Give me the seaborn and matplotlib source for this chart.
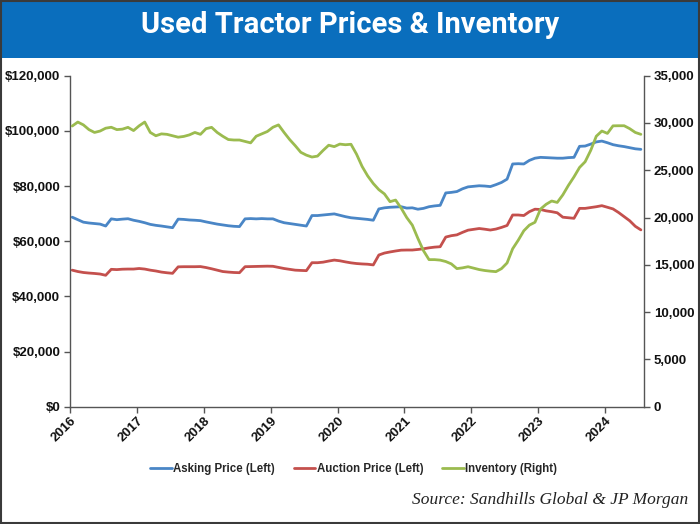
import numpy as np
import pandas as pd
import matplotlib
matplotlib.use("Agg")
import matplotlib.pyplot as plt
from matplotlib.patches import Rectangle
from matplotlib.ticker import FuncFormatter, MultipleLocator
import seaborn as sns

# ---- data (monthly, Jan 2016 - Jul 2024) ----
start_year = 2016
asking_price = [68700, 67800, 66900, 66600, 66400, 66200, 65500, 68100, 67800, 68000, 68150, 67600,
                67200, 66700, 66100, 65750, 65500, 65200, 64900, 68000, 67900, 67700, 67600, 67450,
                67000, 66600, 66200, 65900, 65600, 65400, 65300, 68100, 68200, 68100, 68200, 68100,
                68100, 67300, 66700, 66400, 66100, 65800, 65500, 69300, 69300, 69500, 69700, 69900,
                69400, 68900, 68500, 68300, 68100, 67900, 67600, 71700, 72100, 72300, 72400, 72500,
                72000, 72100, 71600, 71900, 72500, 72800, 73000, 77500, 77700, 78000, 79000, 79700,
                79900, 80100, 80000, 79800, 80500, 81300, 82500, 88000, 88100, 88000, 89300, 90100,
                90400, 90300, 90200, 90100, 90100, 90300, 90400, 94400, 94500, 95200, 96000, 96300,
                95700, 95000, 94600, 94300, 93900, 93500, 93300]
auction_price = [49500, 49000, 48650, 48450, 48300, 48100, 47640, 49800, 49700, 49850, 49900, 49900,
                 50100, 49900, 49500, 49200, 48800, 48550, 48350, 50700, 50750, 50750, 50750, 50800,
                 50450, 50000, 49500, 49000, 48800, 48650, 48580, 50760, 50800, 50850, 50900, 50950,
                 50900, 50500, 50100, 49800, 49500, 49400, 49320, 52200, 52200, 52400, 52800, 53150,
                 52900, 52500, 52150, 51900, 51750, 51650, 51400, 55000, 55700, 56100, 56450, 56750,
                 56800, 56800, 57000, 57250, 57600, 57850, 58000, 61500, 62000, 62300, 63200, 64000,
                 64300, 64600, 64350, 64050, 64400, 65000, 65700, 69500, 69500, 69300, 70700, 71600,
                 71500, 71000, 70700, 70300, 68700, 68500, 68300, 71900, 71900, 72200, 72500, 72880,
                 72300, 71700, 70400, 68900, 67400, 65400, 64100]
inventory = [29680, 30100, 29800, 29300, 29000, 29150, 29450, 29550, 29300, 29350, 29540, 29200,
             29700, 30100, 29000, 28650, 28850, 28800, 28650, 28500, 28580, 28740, 29000, 28800,
             29400, 29540, 29000, 28600, 28250, 28200, 28200, 28050, 27900, 28600, 28850, 29100,
             29550, 29800, 29000, 28250, 27600, 26900, 26600, 26400, 26500, 27100, 27650, 27500,
             27770, 27700, 27750, 26700, 25400, 24400, 23600, 22950, 22500, 21680, 21850, 21000,
             20000, 19200, 17800, 16500, 15550, 15550, 15500, 15350, 15100, 14600, 14680, 14800,
             14650, 14500, 14400, 14330, 14280, 14600, 15200, 16700, 17600, 18600, 19200, 19500,
             20900, 21400, 21750, 21600, 22400, 23400, 24300, 25300, 25900, 27100, 28600, 29150,
             28900, 29700, 29710, 29710, 29400, 29000, 28800]
year_ticks = list(range(2016, 2025))
series_names = ["Asking Price (Left)", "Auction Price (Left)", "Inventory (Right)"]
colors = ["#4a86c6", "#c4504d", "#9bbb4f"]

n = len(asking_price)
t = start_year + (np.arange(n) + 0.4) / 12.0
df = pd.DataFrame({"t": t, "asking": asking_price, "auction": auction_price, "inventory": inventory})

sns.set_theme(style="white")
plt.rcParams["font.family"] = ["Liberation Sans Narrow", "Liberation Sans", "DejaVu Sans"]

fig = plt.figure(figsize=(7.0, 5.24), dpi=100)
fig.patch.set_facecolor("white")

# title bar
fig.patches.append(Rectangle((0.0, 0.889), 1.0, 0.111, transform=fig.transFigure,
                             facecolor="#0a6ebd", edgecolor="none", zorder=0))
fig.patches.append(Rectangle((0.002, 0.002), 0.996, 0.996, transform=fig.transFigure,
                             fill=False, edgecolor="#3a3a3a", lw=1.5, zorder=5))
fig.text(0.5, 0.952, "Used Tractor Prices & Inventory", color="white", ha="center", va="center",
         fontsize=21, fontweight="bold", family=["Roboto", "DejaVu Sans"])

ax = fig.add_axes([0.1, 0.2239, 0.82, 0.6316])
ax2 = ax.twinx()

lw = 2.0
sns.lineplot(data=df, x="t", y="asking", ax=ax, color=colors[0], lw=lw, label=series_names[0], legend=False)
sns.lineplot(data=df, x="t", y="auction", ax=ax, color=colors[1], lw=lw, label=series_names[1], legend=False)
sns.lineplot(data=df, x="t", y="inventory", ax=ax2, color=colors[2], lw=lw, label=series_names[2], legend=False)

ax.set_xlim(2016, 2024.58)
ax.set_ylim(0, 120000)
ax2.set_ylim(0, 35000)
ax.yaxis.set_major_locator(MultipleLocator(20000))
ax2.yaxis.set_major_locator(MultipleLocator(5000))
ax.yaxis.set_major_formatter(FuncFormatter(lambda v, p: f"${v:,.0f}"))
ax2.yaxis.set_major_formatter(FuncFormatter(lambda v, p: f"{v:,.0f}"))
ax.set_xticks(year_ticks)
ax.set_xticklabels([str(y) for y in year_ticks], rotation=45, ha="right", rotation_mode="anchor")
ax.set_xlabel("")
ax.set_ylabel("")
ax2.set_ylabel("")

for a in (ax, ax2):
    a.set_facecolor("none")
    a.spines["top"].set_visible(False)
    for s in ("left", "right", "bottom"):
        a.spines[s].set_color("#555555")
        a.spines[s].set_linewidth(1.0)
    a.grid(False)
ax.spines["right"].set_visible(False)
ax2.spines["left"].set_visible(False)
ax2.spines["bottom"].set_visible(False)

ax.tick_params(axis="both", which="major", length=4, width=1, color="#555555", direction="out",
               labelsize=9.5, labelcolor="#111111", pad=3)
ax.tick_params(axis="y", left=True)
ax.tick_params(axis="x", bottom=True, pad=2)
ax2.tick_params(axis="y", right=True, length=4, width=1, color="#555555", direction="out",
                labelsize=9.5, labelcolor="#111111", pad=3)
for lab in ax.get_xticklabels() + ax.get_yticklabels() + ax2.get_yticklabels():
    lab.set_fontweight("bold")

h1, l1 = ax.get_legend_handles_labels()
h2, l2 = ax2.get_legend_handles_labels()
leg = fig.legend(h1 + h2, l1 + l2, loc="center", bbox_to_anchor=(0.505, 0.105), ncol=3, frameon=False,
                 prop={"weight": "bold", "size": 8.3}, handlelength=1.9, handletextpad=0.1,
                 columnspacing=1.6)

fig.text(0.983, 0.046, "Source: Sandhills Global & JP Morgan", ha="right", va="center",
         fontsize=12.5, style="italic", family=["Liberation Serif", "DejaVu Serif"], color="#222222")

fig.savefig("out.png", dpi=100)
